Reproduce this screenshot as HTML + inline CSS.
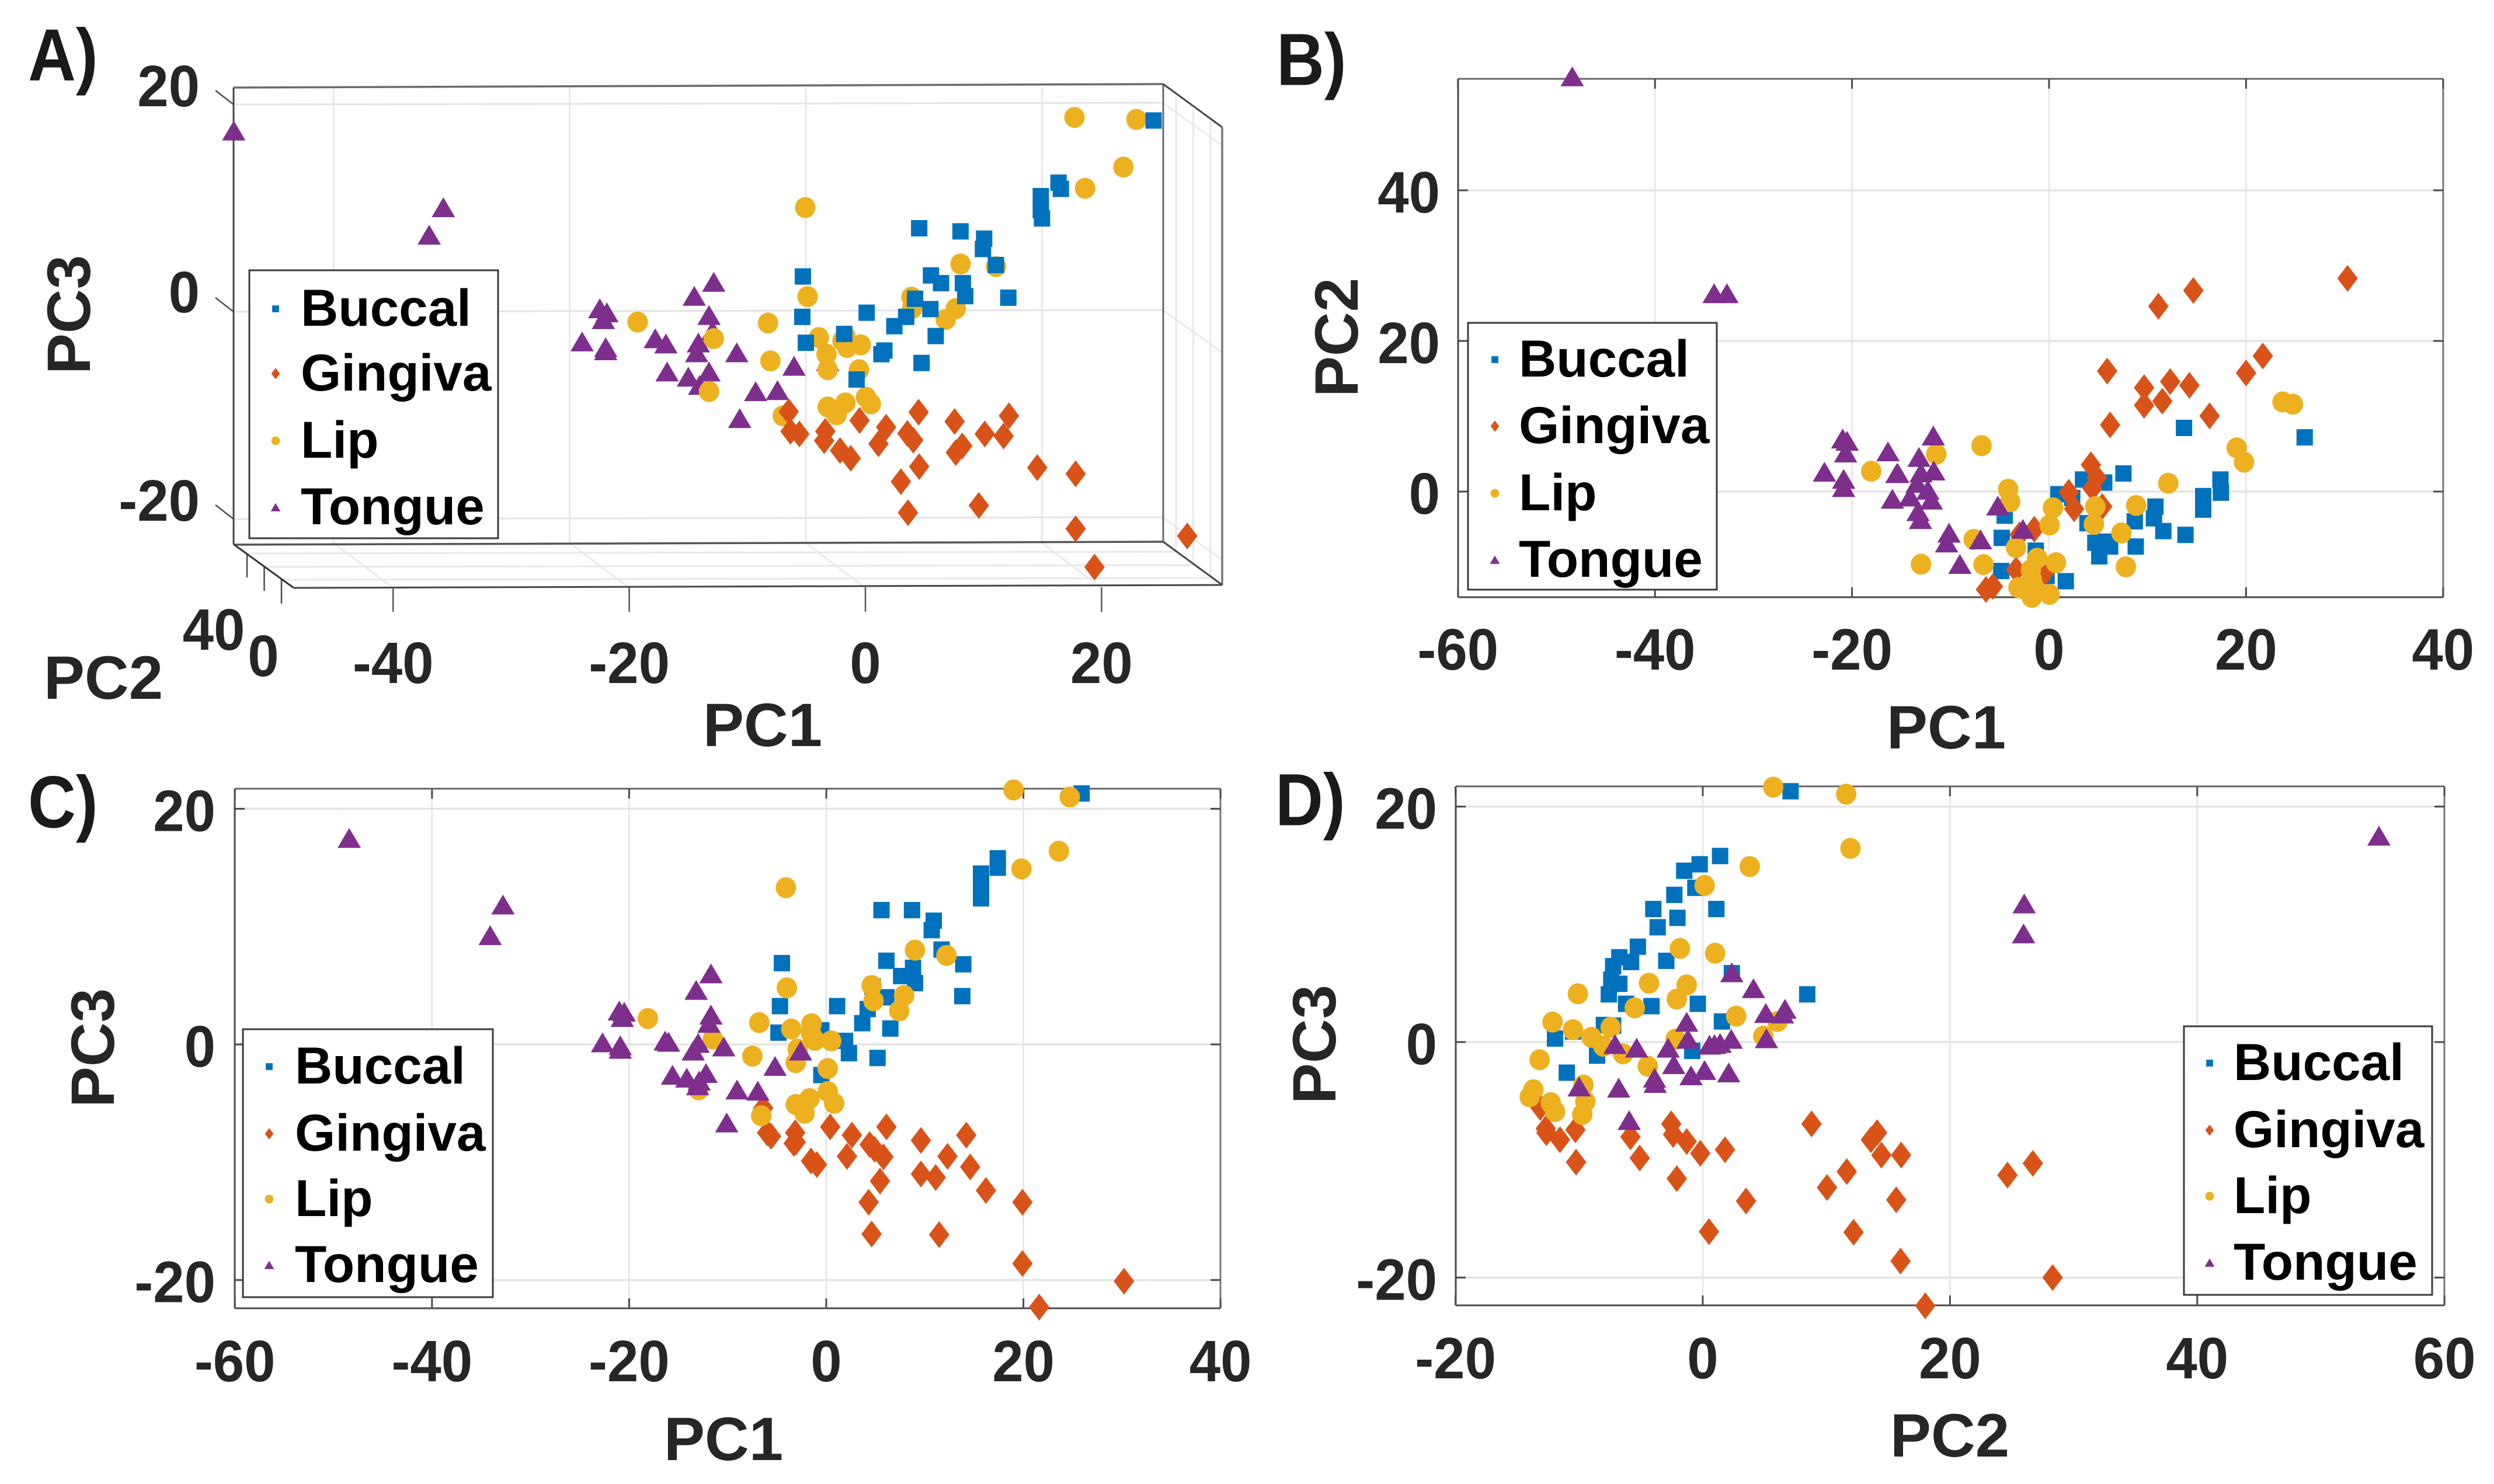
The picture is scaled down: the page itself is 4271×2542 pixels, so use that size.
<!DOCTYPE html>
<html>
<head>
<meta charset="utf-8">
<title>PCA score plots</title>
<style>
html,body{margin:0;padding:0;background:#fff}
svg{display:block}
text{font-family:"Liberation Sans",Arial,sans-serif;font-weight:bold}
</style>
</head>
<body>
<svg id="fig" xmlns="http://www.w3.org/2000/svg" width="4271" height="2542" viewBox="0 0 4271 2542">
<rect width="4271" height="2542" fill="#fff"/>
</svg>
<script>
/* ---------- shared labels ---------- */
const groupNames = ['Buccal','Gingiva','Lip','Tongue'];
const ticksA_pc1 = [-40,-20,0,20];
const ticksA_pc3 = [-20,0,20];
const ticksB_pc1 = [-60,-40,-20,0,20,40];
const ticksB_pc2 = [0,20,40];
const ticksC_pc1 = [-60,-40,-20,0,20,40];
const ticksC_pc3 = [-20,0,20];
const ticksD_pc2 = [-20,0,20,40,60];
const ticksD_pc3 = [-20,0,20];

/* ---------- panel A (apparent PC1 / PC3 on the back plane) ---------- */
const aBuccalX = [-0.25,-0.3,0,5.15,7.5,8.5,10.55,9.25,10.6,11.45,13.3,13.5,17.15,16.1,15,11,6.65,6.4,9.8,4.3,3.25,29.45,21.4,21.6,19.9,19.9,20,13.1,15.1,9.6];
const aBuccalY = [3.35,-0.55,-3.05,-0.15,-1.45,-0.55,0.2,1.2,3.45,2.7,2.7,1.45,1.3,4.45,6,-2.4,-3.8,-4.15,-5,-6.6,-2.2,18.4,12.4,11.8,11.1,9.75,8.95,7.7,7,8];
const aGingivaX = [-1.45,-1.3,-0.55,1.65,1.55,2.9,3.8,4.55,6.8,6.15,8.6,9.1,9.55,12.6,13.25,12.7,15.15,17.2,16.75,9.6,8.05,19.6,22.85,14.65,8.65,22.85,32.3,24.45];
const aGingivaY = [-9.7,-11.6,-11.85,-11.6,-12.5,-13.45,-14.2,-10.55,-11.2,-12.8,-11.8,-12.45,-9.75,-10.65,-13,-13.65,-11.85,-10.1,-12.05,-15,-16.45,-15.1,-15.7,-18.75,-19.45,-21,-21.7,-24.7];
const aLipX = [13.1,16.1,0.15,8.95,9,12.7,11.85,-14.25,-3.2,1.1,3.35,3.1,3.5,4.65,1.75,-3,1.85,4.5,-7.8,-8.2,5.1,5.5,3.35,1.85,2.6,-1.95,22.75,28,26.9,23.65,-0.05];
const aLipY = [4.55,4.3,1.4,1.35,0.25,0.25,-0.8,-1.05,-1.15,-2.55,-2.4,-2.85,-3.5,-3.25,-4.15,-4.8,-5.65,-5.65,-2.65,-7.75,-8.3,-8.95,-8.85,-9.25,-10,-10.1,18.7,18.5,13.9,11.85,10];
const aTongueX = [-7.8,-9.45,-17.45,-16.85,-17.15,-8.2,-7.9,-18.95,-16.95,-16.95,-12.75,-11.85,-9.1,-9.25,-5.85,-1,1.85,-11.75,-9.95,-8.2,-9,-4.25,-2.4,-5.6,-48.45,-30.7,-31.9];
const aTongueY = [2.8,1.45,0.25,-0.15,-0.8,-0.4,-1.9,-2.95,-3.5,-3.8,-2.65,-3.15,-3.05,-4,-4,-5.3,-4.85,-5.85,-6.35,-5.85,-7.15,-7.75,-7.65,-10.35,17.4,10,7.35];

/* ---------- panel B (PC1 / PC2) ---------- */
const bBuccalX = [13.7,7.55,3.45,5.6,0.95,2.35,17.4,17.45,15.65,15.65,10.8,10.65,8.7,11.6,13.85,-4.5,-4.8,3.9,4.7,6.2,5.75,5.1,8.8,-1.35,-4.85,-0.25,1.7,25.95];
const bBuccalY = [8.45,2.4,1.6,1.2,-0.35,-0.85,1.6,-0.15,-0.6,-2.4,-2,-3.55,-3.95,-5.25,-5.75,-3.2,-6.15,-4.2,-6.8,-7.3,-6.65,-8.6,-7.3,-7.85,-10.55,-11.2,-11.9,7.2];
const bGingivaX = [16.3,4.25,4.85,4.4,2,2.55,5.4,-1.5,-3,-3.35,-6.4,-5.7,-0.4,30.3,14.65,11.1,21.7,20,5.9,9.65,12.3,14.25,11.5,9.65,6.2];
const bGingivaY = [10.05,3.55,1.85,0.45,-0.1,-2.3,-2,-5,-5.75,-10.4,-13,-12.6,-10.7,28.3,26.7,24.6,18,15.75,16,13.8,14.6,14.1,12,11.45,8.85];
const bLipX = [19.05,19.8,-6.85,-11.45,12.1,-4.15,-3.95,4.7,0.4,8.85,0.05,4.55,7.35,-7.65,-3.35,-1.2,0.7,-6.65,-13,7.8,-1.85,-1.75,-3.1,-1.5,-1.75,0.05,-2.45,23.7,24.75,-18.05];
const bLipY = [5.8,3.9,6.1,4.95,1.1,0.3,-1.35,-2,-2.15,-1.85,-4.45,-4.35,-5.5,-6.35,-7.45,-8.85,-9.45,-9.7,-9.65,-10,-10.4,-11.7,-12.75,-12.75,-14.05,-13.65,-13,11.9,11.6,2.7];
const bTongueX = [-11.75,-13.2,-11.7,-15.35,-13,-13.4,-12.3,-14.1,-11.95,-13.3,-13.05,-5.2,-2.65,-10.15,-10.4,-6.95,-9.05,-48.4,-34,-32.7,-20.95,-20.5,-20.65,-16.35,-22.8,-20.85,-20.85,-15.45,-15.9];
const bTongueY = [7.4,4.55,2.75,2.4,2.5,1.1,0.2,-0.7,-1.1,-2.65,-3.7,-1.9,-5,-5.5,-6.8,-6.4,-9.65,55.1,26.3,26.3,7,6.7,5.15,5.3,2.6,1.65,0.55,2.4,-1];

/* ---------- panel C (PC1 / PC3) ---------- */
const cBuccalX = [10.7,11.7,13.9,6.1,8.8,7.6,9,13.8,6.1,4.2,4.7,-4.5,-4.7,1.1,3.65,6.5,-4.85,1.9,2.3,5.2,-0.5,-0.5,25.9,17.4,17.4,15.7,15.7,15.7,5.6,8.7,10.9];
const cBuccalY = [9.7,8.05,6.8,7.1,6.5,5.8,5.2,4.1,4,3,4.9,6.9,3.25,3.25,1.8,1.35,1,0.3,-0.75,-1.15,-2.6,1.2,21.3,15.8,15,14.5,13.2,12.4,11.4,11.4,10.5];
const cGingivaX = [6.1,0.4,2.6,9.6,4.4,4.9,5.8,12.3,2.1,-6,-5.6,-3.15,-3.1,-3.3,-1.55,-0.95,9.6,11.1,5.45,4.3,-6.4,14.2,14.6,16.2,19.9,4.6,11.45,19.9,30.2,21.6];
const cGingivaY = [-7,-7,-7.7,-8.15,-8.5,-8.9,-9.55,-9.5,-9.5,-7.5,-7.8,-7.5,-8.3,-8.4,-9.9,-10.2,-11,-11.3,-11.6,-13.4,-5.4,-7.7,-10.4,-12.4,-13.4,-16.1,-16.15,-18.6,-20.1,-22.3];
const cLipX = [9,12.2,-4,4.6,4.8,7.9,7.4,-18.1,-6.8,-3.55,-1.5,-1.55,-1.15,0.5,-11.5,-2.9,-7.5,-3.1,0.15,0.15,0.8,-1.7,-3.1,-2.2,-6.6,-12.95,19,24.7,23.6,19.8,-4.1];
const cLipY = [8,7.55,4.8,5,3.7,4.15,2.85,2.2,1.85,1.3,1.75,0.95,0.35,0.3,0.45,-0.4,-1,-1.55,-2.05,-4,-5,-4.6,-5.1,-5.85,-6.05,-3.85,21.6,21,16.4,14.9,13.3];
const cTongueX = [-11.7,-13.2,-21,-20.5,-20.7,-20.9,-20.9,-11.7,-11.9,-16.35,-16,-13,-13.5,-10.4,-2.6,-5.2,-15.6,-14.15,-12.2,-12.9,-13.05,-9.05,-6.95,-10.1,-22.7,-48.4,-32.8,-34.1];
const cTongueY = [6,4.6,2.85,2.75,2.3,-0.1,-0.4,2.5,1.8,0.3,0.2,0.1,-0.55,-0.2,-0.55,-1.85,-2.6,-2.85,-2.45,-3.1,-3.5,-3.85,-3.95,-6.65,0.15,17.5,11.85,9.25];

/* ---------- panel D (PC2 / PC3) ---------- */
const dBuccalX = [-4,-2.05,1.1,-3.65,-5.25,-6.75,-5.8,-2.95,-7.25,-7.4,-6.75,-7.6,-6.2,-4.15,-0.4,8.45,1.55,-8,-7.25,-10.5,-11.95,-8.55,-0.85,-11,2.35,7.1,1.4,-0.25,-1.5,-0.6,-2.3];
const dBuccalY = [11.3,10.55,11.3,9.75,8.1,7.2,6.8,6.9,6.45,5.3,4.95,4.05,3.25,3.05,3.25,4.05,1.75,1.45,1.4,0.9,0.3,-1.15,-0.75,-2.6,5.85,21.3,15.8,15.1,14.55,13.1,12.5];
const dGingivaX = [8.8,-2.55,-2.4,-1.3,-0.2,1.8,-5.85,-5.1,-10.3,-11.55,-12.7,-13.15,-10.25,-2.1,10.05,11.65,3.5,-12.65,14.1,13.6,14.45,16.05,24.65,26.7,15.65,0.5,12.2,16,28.3,18];
const dGingivaY = [-6.95,-6.95,-7.85,-8.45,-9.45,-9.15,-8.05,-9.85,-7.45,-8.3,-7.35,-5.55,-10.2,-11.6,-12.35,-11,-13.5,-7.7,-7.7,-8.3,-9.6,-9.6,-11.3,-10.3,-13.4,-16.1,-16.15,-18.6,-20,-22.4];
const dLipX = [-1.85,1,-10.1,-4.35,-1.3,-2.1,-5.5,-12.15,-10.5,-9,-7.45,-8.05,2.7,6.05,4.9,-2.2,-13.2,-6.45,-4.45,-9.65,-13.7,-14,-12.3,-11.95,-9.5,-9.75,5.7,11.6,11.95,3.8,0.15];
const dLipY = [7.95,7.55,4.1,5,4.85,3.65,2.9,1.7,1.05,0.4,1.25,-0.35,2.2,1.75,0.5,0.25,-1.5,-1,-2.05,-3.65,-4.05,-4.65,-5.15,-5.9,-5.05,-6.15,21.65,21.05,16.45,14.9,13.3];
const dTongueX = [2.35,4.1,5.1,6.65,6.45,-1.3,-1.2,5.15,2.3,1.4,0.95,0.55,-7.1,-5.35,-2.8,-2.35,0.15,-0.95,2.1,-3.9,-3.85,-10,-6.8,-5.95,54.7,26,25.95];
const dTongueY = [5.9,4.55,2.45,2.8,2.4,1.7,0.25,0.3,0.25,-0.1,-0.2,-0.25,-0.2,-0.5,-0.5,-1.9,-2.4,-2.85,-2.6,-3.05,-3.5,-3.8,-3.9,-6.65,17.5,11.75,9.2];

/* ---------- helpers ---------- */
const NS = 'http://www.w3.org/2000/svg';
const fig = document.getElementById('fig');
const COLORS = {Buccal:'#0072BD',Gingiva:'#D95319',Lip:'#EDB120',Tongue:'#7E2F8E'};
const GRID = '#e4e4e4', AXIS = '#4a4a4a', INK = '#262626';
const TICK_FONT = 100, TITLE_FONT = 105, LETTER_FONT = 126;

function el(tag, attrs, parent){
  const e = document.createElementNS(NS, tag);
  for (const k in attrs) e.setAttribute(k, attrs[k]);
  (parent || fig).appendChild(e);
  return e;
}
function group(name){
  const g = el('g', {});
  
  
  return g;
}
function seg(parent, name, x1, y1, x2, y2, color, w){
  const l = el('line', {x1:x1, y1:y1, x2:x2, y2:y2, stroke:color, 'stroke-width':w}, parent);
  
  
  return l;
}
function label(parent, name, str, x, cy, size, anchor, color, rot){
  const t = el('text', {x:x, y:cy + size * 0.36, 'font-size':size, 'text-anchor':anchor, fill:color}, parent);
  if (rot) t.setAttribute('transform', 'rotate(' + rot + ' ' + x + ' ' + cy + ')');
  else if (size === TICK_FONT) t.setAttribute('transform', 'translate(' + x + ',0) scale(0.96,1) translate(' + (-x) + ',0)');
  else if (size === LETTER_FONT) t.setAttribute('transform', 'translate(' + x + ',0) scale(0.9,1) translate(' + (-x) + ',0)');
  
  
  t.textContent = str;
  return t;
}
function marker(parent, kind, x, y, k){
  let m;
  if (kind === 'Buccal') m = el('rect', {x:x - 14*k, y:y - 14*k, width:28*k, height:28*k}, parent);
  else if (kind === 'Lip') m = el('ellipse', {cx:x, cy:y, rx:17.5*k, ry:18*k}, parent);
  else if (kind === 'Gingiva') m = el('polygon', {points:[x,y-23*k, x+17.5*k,y, x,y+23*k, x-17.5*k,y].join(' ')}, parent);
  else m = el('polygon', {points:[x,y-17.5*k, x+20*k,y+16.5*k, x-20*k,y+16.5*k].join(' ')}, parent);
  m.setAttribute('fill', COLORS[kind]);
  return m;
}
function series(parent, prefix, kind, xs, ys, sx, sy){
  const g = el('g', {}, parent);
  
  
  for (let i = 0; i < xs.length; i++){
    const m = marker(g, kind, sx(xs[i]), sy(ys[i]), 1);
    
    
  }
}
function legend(prefix, x, y, w, h, mx, tx, rows){
  const g = group(prefix + '-legend');
  const box = el('rect', {x:x, y:y, width:w, height:h, fill:'#fff', stroke:'#3a3a3a', 'stroke-width':3}, g);
  
  
  groupNames.forEach(function(n, i){
    const m = marker(g, n, mx, rows[i], 0.42);
    
    
    label(g, prefix + '-legend-label-' + n.toLowerCase(), n, tx - 4, rows[i] - 3, 89, 'start', '#000');
  });
}
function panel2D(o){
  const g = group(o.prefix + '-axes');
  const sx = function(v){ return o.x0 + o.kx * v; };
  const sy = function(v){ return o.y0 - o.ky * v; };
  o.xTicks.forEach(function(t){
    seg(g, o.prefix + '-x-gridline', sx(t), o.top, sx(t), o.bottom, GRID, 2.5);
  });
  o.yTicks.forEach(function(t){
    seg(g, o.prefix + '-y-gridline', o.left, sy(t), o.right, sy(t), GRID, 3.5);
  });
  seg(g, o.prefix + '-top-border', o.left, o.top, o.right, o.top, '#666', 3);
  seg(g, o.prefix + '-right-border', o.right, o.top, o.right, o.bottom, '#777', 3);
  seg(g, o.prefix + '-bottom-axis', o.left, o.bottom, o.right, o.bottom, AXIS, 3);
  seg(g, o.prefix + '-left-axis', o.left, o.top, o.left, o.bottom, AXIS, 3);
  o.xTicks.forEach(function(t){
    seg(g, o.prefix + '-x-tick', sx(t), o.bottom, sx(t), o.bottom - 17, AXIS, 3);
    seg(g, o.prefix + '-x-tick-top', sx(t), o.top, sx(t), o.top + 17, AXIS, 3);
    label(g, o.prefix + '-x-tick-label', String(t), sx(t), o.xLabelY, TICK_FONT, 'middle', INK);
  });
  o.yTicks.forEach(function(t){
    seg(g, o.prefix + '-y-tick', o.left, sy(t), o.left + 17, sy(t), AXIS, 3);
    seg(g, o.prefix + '-y-tick-right', o.right, sy(t), o.right - 17, sy(t), AXIS, 3);
    label(g, o.prefix + '-y-tick-label', String(t), o.yLabelX, sy(t) + 2, TICK_FONT, 'end', INK);
  });
  const pts = group(o.prefix + '-points');
  series(pts, o.prefix, 'Buccal', o.data[0], o.data[1], sx, sy);
  series(pts, o.prefix, 'Gingiva', o.data[2], o.data[3], sx, sy);
  series(pts, o.prefix, 'Lip', o.data[4], o.data[5], sx, sy);
  series(pts, o.prefix, 'Tongue', o.data[6], o.data[7], sx, sy);
  label(fig, o.prefix + '-x-axis-title', o.xTitle, o.xTitleX, o.xTitleY, TITLE_FONT, 'middle', INK);
  label(fig, o.prefix + '-y-axis-title', o.yTitle, o.yTitleX, o.yTitleY, TITLE_FONT, 'middle', INK, -90);
  label(fig, o.prefix + '-letter', o.letter, o.letterX, o.letterY, LETTER_FONT, 'start', '#1a1a1a');
}

/* ---------- panel A: 3-D box ---------- */
(function(){
  const g = group('panel-a-axes');
  const sx = function(v){ return 1380 + 20.22 * v; };
  const sy = function(v){ return 533 - 17.75 * v; };
  const dx = 102, dy = 73;
  ticksA_pc1.forEach(function(t){
    seg(g, 'panel-a-x-gridline', sx(t), 149, sx(t), 930, GRID, 2.5);
    seg(g, 'panel-a-floor-gridline', sx(t), 930, sx(t) + dx, 1007, '#e8e8e8', 2.5);
  });
  ticksA_pc3.forEach(function(t){
    seg(g, 'panel-a-y-gridline', 400, sy(t) + 1, 1991, sy(t) - 2, GRID, 3);
    seg(g, 'panel-a-side-gridline', 1991, sy(t) - 2, 1991 + dx, sy(t) - 2 + dy, '#e8e8e8', 2.5);
    seg(g, 'panel-a-y-tick', 369, sy(t) - 23, 400, sy(t) + 1, AXIS, 2.5);
    label(g, 'panel-a-y-tick-label', String(t), 342, sy(t) + (t === 0 ? -34 : -32), TICK_FONT, 'end', INK);
  });
  [948,971,993].forEach(function(y, i){
    seg(g, 'panel-a-floor-depth-gridline', 423 + i * 29, y, 2014 + i * 29.5, y - 3, '#e8e8e8', 3);
    seg(g, 'panel-a-side-depth-gridline', 2014 + i * 29.5, 164 + i * 22, 2014 + i * 29.5, y - 3, '#e8e8e8', 3);
    seg(g, 'panel-a-pc2-tick', 423 + i * 29.5, y, 423 + i * 29.5, y + 41, AXIS, 2.5);
  });
  seg(g, 'panel-a-back-top', 400, 150, 1992, 144, '#6a6a6a', 3.5);
  seg(g, 'panel-a-back-left', 400, 150, 400, 933, '#444', 3);
  seg(g, 'panel-a-back-right', 1992, 144, 1992, 928, '#6a6a6a', 3);
  seg(g, 'panel-a-back-bottom', 400, 933, 1992, 928, '#555', 3.5);
  seg(g, 'panel-a-top-side', 1992, 144, 2093, 218, '#444', 3);
  seg(g, 'panel-a-right-edge', 2093, 218, 2093, 1002, '#777', 3.5);
  seg(g, 'panel-a-floor-right', 1992, 928, 2093, 1002, '#444', 3);
  seg(g, 'panel-a-floor-left', 401, 933, 503, 1007, '#333', 3);
  seg(g, 'panel-a-floor-front', 503, 1007, 2093, 1002, '#444', 3);
  ticksA_pc1.forEach(function(t){
    seg(g, 'panel-a-x-tick', sx(t) + dx, 1006, sx(t) + dx, 1048, '#555', 2.5);
    label(g, 'panel-a-x-tick-label', String(t), sx(t) + dx, 1134, TICK_FONT, 'middle', INK);
  });
  label(g, 'panel-a-pc2-tick-label', '40', 366, 1077, TICK_FONT, 'middle', INK);
  label(g, 'panel-a-pc2-tick-label', '0', 451, 1122, TICK_FONT, 'middle', INK);
  const pts = group('panel-a-points');
  series(pts, 'panel-a', 'Tongue', aTongueX, aTongueY, sx, sy);
  series(pts, 'panel-a', 'Lip', aLipX, aLipY, sx, sy);
  series(pts, 'panel-a', 'Gingiva', aGingivaX, aGingivaY, sx, sy);
  series(pts, 'panel-a', 'Buccal', aBuccalX, aBuccalY, sx, sy);
  label(fig, 'panel-a-x-axis-title', 'PC1', 1306, 1240, TITLE_FONT, 'middle', INK);
  label(fig, 'panel-a-depth-axis-title', 'PC2', 177, 1159, TITLE_FONT, 'middle', INK);
  label(fig, 'panel-a-y-axis-title', 'PC3', 116, 539, TITLE_FONT, 'middle', INK, -90);
  label(fig, 'panel-a-letter', 'A)', 48, 92, LETTER_FONT, 'start', '#1a1a1a');
})();
legend('panel-a', 427, 463, 426, 459, 472, 519, [529,640,755,869]);

/* ---------- panels B, C, D ---------- */
panel2D({prefix:'panel-b', letter:'B)', letterX:2186, letterY:100, xTitle:'PC1', yTitle:'PC2',
  x0:3509, kx:16.87, y0:842, ky:12.9, left:2497, right:4184, top:135, bottom:1023,
  xTicks:ticksB_pc1, yTicks:ticksB_pc2, xLabelY:1111, yLabelX:2466,
  xTitleX:3333, xTitleY:1244, yTitleX:2287, yTitleY:578,
  data:[bBuccalX,bBuccalY,bGingivaX,bGingivaY,bLipX,bLipY,bTongueX,bTongueY]});
legend('panel-b', 2514, 553, 426, 457, 2560, 2605, [616,730,845,959]);

panel2D({prefix:'panel-c', letter:'C)', letterX:48, letterY:1372, xTitle:'PC1', yTitle:'PC3',
  x0:1415, kx:16.88, y0:1789, ky:20.18, left:402, right:2090, top:1351, bottom:2241,
  xTicks:ticksC_pc1, yTicks:ticksC_pc3, xLabelY:2330, yLabelX:369,
  xTitleX:1239, xTitleY:2463, yTitleX:157, yTitleY:1795,
  data:[cBuccalX,cBuccalY,cGingivaX,cGingivaY,cLipX,cLipY,cTongueX,cTongueY]});
legend('panel-c', 416, 1763, 428, 459, 461, 509, [1827,1942,2054,2167]);

panel2D({prefix:'panel-d', letter:'D)', letterX:2184, letterY:1368, xTitle:'PC2', yTitle:'PC3',
  x0:2916, kx:21.17, y0:1785, ky:20.17, left:2493, right:4186, top:1347, bottom:2236,
  xTicks:ticksD_pc2, yTicks:ticksD_pc3, xLabelY:2325, yLabelX:2461,
  xTitleX:3339, xTitleY:2457, yTitleX:2249, yTitleY:1789,
  data:[dBuccalX,dBuccalY,dGingivaX,dGingivaY,dLipX,dLipY,dTongueX,dTongueY]});
legend('panel-d', 3740, 1758, 425, 460, 3784, 3829, [1821,1936,2049,2163]);
</script>
</body>
</html>
